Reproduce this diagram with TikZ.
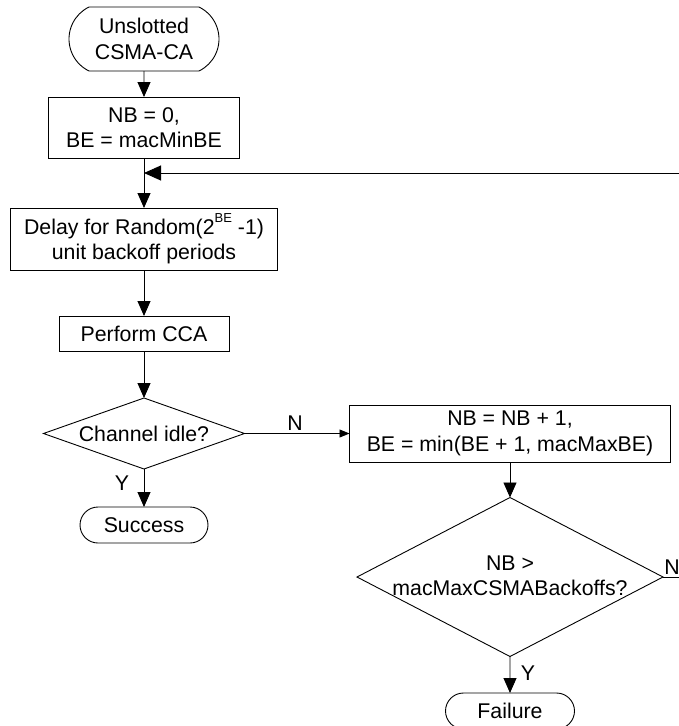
\documentclass[tikz,border=0pt]{standalone}
\usepackage{fontspec}
\setmainfont{Liberation Sans}
\usetikzlibrary{arrows.meta,shapes.misc,shapes.geometric,calc}

\begin{document}
\begin{tikzpicture}[x=1pt,y=-1pt,
  font=\fontsize{21.3}{25.5}\selectfont,
  every node/.style={inner sep=0pt, outer sep=0pt},
  line/.style={draw=black, line width=0.9pt},
  procbox/.style={line, rectangle, align=center},
  terminal/.style={line, rounded rectangle, rounded rectangle arc length=180, align=center},
  decision/.style={line, diamond},
  arr/.style={line, -{Triangle[length=15pt,width=13pt]}},
  arrbig/.style={line, -{Triangle[length=17pt,width=15pt]}},
  arrsmall/.style={line, -{Triangle[length=10pt,width=8pt]}},
  lbl/.style={inner sep=0pt}
]
\useasboundingbox (0,0) rectangle (679,726);
\clip (0,0) rectangle (679,726);

% left column
\node[terminal, rounded rectangle arc length=128, minimum width=150, minimum height=64]
  (start) at (144,39) {Unslotted\\CSMA-CA};
\node[procbox, minimum width=191, minimum height=61] (init) at (144,127.5) {NB = 0,\\BE = macMinBE};
\node[procbox, minimum width=267, minimum height=62] (delay) at (144,239)
  {Delay for Random(2\raisebox{0.55em}{\fontsize{13}{13}\selectfont BE} -1)\\unit backoff periods};
\node[procbox, minimum width=170, minimum height=35] (cca) at (144,333.5) {Perform CCA};
\node[decision, minimum width=201, minimum height=71] (idle) at (144,433.5) {};
\node (idletext) at (idle.center) {Channel idle?};
\node[terminal, minimum width=128, minimum height=36] (success) at (144,525) {Success};

% right column
\node[procbox, minimum width=321, minimum height=57] (inc) at (510,433.5)
  {NB = NB + 1,\\BE = min(BE + 1, macMaxBE)};
\node[decision, minimum width=306, minimum height=159] (maxb) at (510,577) {};
\node[align=center] (maxbtext) at (510,576) {NB >\\macMaxCSMABackoffs?};
\node[terminal, minimum width=129, minimum height=36] (failure) at (510,711) {Failure};

% junction where the retry path rejoins
\coordinate (rejoin) at (144,173);

% connectors
\draw[arr] (start) -- (init);
\draw[arr] (init) -- (delay);
\draw[arr] (delay) -- (cca);
\draw[arr] (cca) -- (idle.north);
\draw[arr] (idle.south) -- (success);
\draw[arrsmall] (idle.east) -- (inc.west);
\draw[arr] (inc) -- (maxb.north);
\draw[arr] (maxb.south) -- (failure);
\draw[arrbig] (maxb.east) -- ++(40,0) |- (rejoin);

% branch labels
\node[lbl] (ylbl1) at (122,483) {Y};
\node[lbl] (nlbl1) at (295,423) {N};
\node[lbl] (ylbl2) at (528,673) {Y};
\node[lbl] (nlbl2) at (672,567) {N};
\end{tikzpicture}
\end{document}
